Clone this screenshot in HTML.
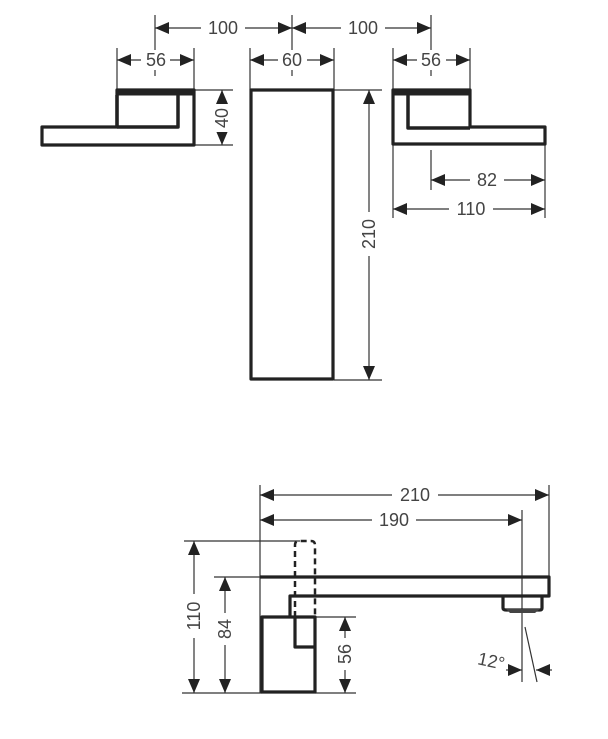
<!DOCTYPE html>
<html><head><style>
html,body{margin:0;padding:0;background:#fff;}
svg{display:block;}
text{font-family:"Liberation Sans",sans-serif;font-size:18px;fill:#444;}
</style></head><body>
<svg width="608" height="739" viewBox="0 0 608 739" xmlns="http://www.w3.org/2000/svg">
<defs>
<marker id="a" viewBox="0 0 14 12" refX="14" refY="6" markerWidth="14" markerHeight="12" markerUnits="userSpaceOnUse" orient="auto-start-reverse">
<path d="M0,0 L14,6 L0,12 z" fill="#222"/></marker>
</defs>
<g stroke="#333" stroke-width="1.2" fill="none">
<line x1="155" y1="15" x2="155" y2="60"/>
<line x1="292" y1="15" x2="292" y2="70"/>
<line x1="431" y1="15" x2="431" y2="60"/>
<line x1="155" y1="28" x2="292" y2="28" marker-start="url(#a)" marker-end="url(#a)"/>
<line x1="292" y1="28" x2="431" y2="28" marker-start="url(#a)" marker-end="url(#a)"/>
<line x1="117" y1="48" x2="117" y2="90"/>
<line x1="194" y1="48" x2="194" y2="90"/>
<line x1="117" y1="60" x2="194" y2="60" marker-start="url(#a)" marker-end="url(#a)"/>
<line x1="155" y1="65" x2="155" y2="76"/>
<line x1="250" y1="48" x2="250" y2="90"/>
<line x1="334" y1="48" x2="334" y2="90"/>
<line x1="250" y1="60" x2="334" y2="60" marker-start="url(#a)" marker-end="url(#a)"/>
<line x1="292" y1="65" x2="292" y2="76"/>
<line x1="393" y1="48" x2="393" y2="90"/>
<line x1="470" y1="48" x2="470" y2="90"/>
<line x1="393" y1="60" x2="470" y2="60" marker-start="url(#a)" marker-end="url(#a)"/>
<line x1="431" y1="65" x2="431" y2="76"/>
<line x1="194" y1="90" x2="233" y2="90"/>
<line x1="194" y1="145" x2="233" y2="145"/>
<line x1="222" y1="90" x2="222" y2="145" marker-start="url(#a)" marker-end="url(#a)"/>
<line x1="334" y1="90" x2="382" y2="90"/>
<line x1="334" y1="380" x2="382" y2="380"/>
<line x1="369" y1="90" x2="369" y2="380" marker-start="url(#a)" marker-end="url(#a)"/>
<line x1="393" y1="144" x2="393" y2="218"/>
<line x1="545" y1="144" x2="545" y2="218"/>
<line x1="431" y1="150" x2="431" y2="190"/>
<line x1="431" y1="180" x2="545" y2="180" marker-start="url(#a)" marker-end="url(#a)"/>
<line x1="393" y1="209" x2="545" y2="209" marker-start="url(#a)" marker-end="url(#a)"/>
<line x1="260" y1="485" x2="260" y2="693"/>
<line x1="549" y1="485" x2="549" y2="578"/>
<line x1="522" y1="510" x2="522" y2="682"/>
<line x1="260" y1="495" x2="549" y2="495" marker-start="url(#a)" marker-end="url(#a)"/>
<line x1="260" y1="520" x2="522" y2="520" marker-start="url(#a)" marker-end="url(#a)"/>
<line x1="184" y1="541" x2="300" y2="541"/>
<line x1="214" y1="577" x2="260" y2="577"/>
<line x1="182" y1="693" x2="262" y2="693"/>
<line x1="194" y1="541" x2="194" y2="693" marker-start="url(#a)" marker-end="url(#a)"/>
<line x1="225" y1="577" x2="225" y2="693" marker-start="url(#a)" marker-end="url(#a)"/>
<line x1="315" y1="617" x2="356" y2="617"/>
<line x1="315" y1="693" x2="356" y2="693"/>
<line x1="345" y1="617" x2="345" y2="693" marker-start="url(#a)" marker-end="url(#a)"/>
<line x1="525" y1="627" x2="537" y2="682"/>
<line x1="506" y1="670" x2="522" y2="670" marker-end="url(#a)"/>
<line x1="552" y1="670" x2="536" y2="670" marker-end="url(#a)"/>
</g>
<g fill="#fff">
<rect x="201" y="18" width="44" height="20"/><rect x="341" y="18" width="44" height="20"/>
<rect x="141" y="50" width="29" height="20"/><rect x="278" y="50" width="29" height="20"/><rect x="417" y="50" width="29" height="20"/>
<rect x="212" y="104" width="20" height="28"/><rect x="359" y="212" width="20" height="44"/>
<rect x="470" y="170" width="34" height="20"/><rect x="449" y="199" width="44" height="20"/>
<rect x="392" y="485" width="46" height="20"/><rect x="372" y="510" width="44" height="20"/>
<rect x="184" y="594" width="20" height="44"/><rect x="215" y="613" width="20" height="32"/><rect x="335" y="638" width="20" height="32"/>
</g>
<text x="223" y="34" text-anchor="middle">100</text>
<text x="363" y="34" text-anchor="middle">100</text>
<text x="156" y="66" text-anchor="middle">56</text>
<text x="292" y="66" text-anchor="middle">60</text>
<text x="431" y="66" text-anchor="middle">56</text>
<text transform="translate(228,118) rotate(-90)" text-anchor="middle">40</text>
<text transform="translate(375,234) rotate(-90)" text-anchor="middle">210</text>
<text x="487" y="186" text-anchor="middle">82</text>
<text x="471" y="215" text-anchor="middle">110</text>
<text x="415" y="501" text-anchor="middle">210</text>
<text x="394" y="526" text-anchor="middle">190</text>
<text transform="translate(200,616) rotate(-90)" text-anchor="middle">110</text>
<text transform="translate(231,629) rotate(-90)" text-anchor="middle">84</text>
<text transform="translate(351,654) rotate(-90)" text-anchor="middle">56</text>
<text transform="translate(490,667) rotate(12)" text-anchor="middle">12°</text>
<g stroke="#222" stroke-width="3.2" fill="none" stroke-linejoin="round">
<path d="M117,90 H194 V145 H42 V127 H117 Z"/>
<line x1="117" y1="93" x2="194" y2="93" stroke-width="5"/>
<path d="M117,127 V95 M178,93 V127 H117" stroke-width="3.5"/>
<rect x="251" y="90" width="82" height="289"/>
<path d="M393,90 H470 V127 H545 V144 H393 Z"/>
<line x1="393" y1="93" x2="470" y2="93" stroke-width="5"/>
<path d="M408,93 V128 H470" stroke-width="3.5"/>
<path d="M260,577 H549 V596 H290 V617" />
<path d="M262,617 H315 V692 H262 Z"/>
<path d="M295,617 V647 H315" />
<path d="M503,596 V608 Q503,610 506,610 H540 Q542,610 542,608 V596"/>
</g>
<path d="M295,617 V545 Q295,541 299,541 H311 Q315,541 315,545 V617" stroke="#222" stroke-width="2.5" fill="none" stroke-dasharray="6,4"/>
<path d="M506,609 H540 L535,613 H510 Z" fill="#444"/>
</svg>
</body></html>
